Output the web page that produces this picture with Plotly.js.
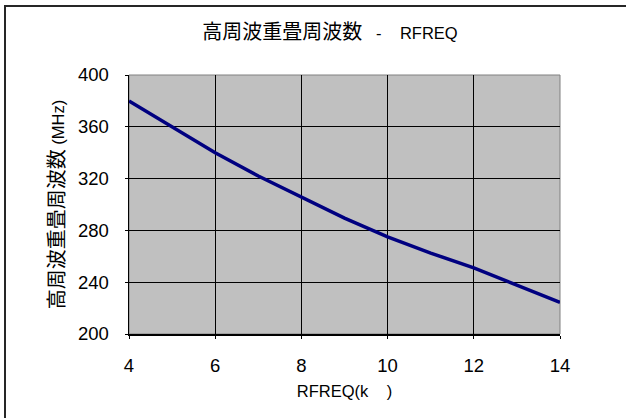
<!DOCTYPE html>
<html>
<head>
<meta charset="utf-8">
<script src="https://cdn.plot.ly/plotly-3.0.1.min.js"></script>
<style>
  html, body { margin: 0; padding: 0; background: #ffffff; }
  #chart { width: 626px; height: 418px; }
</style>
</head>
<body>
<div id="chart"></div>
<script>
const rfreq = [4, 5, 6, 7, 8, 9, 10, 11, 12, 13, 14];
const freqMHz = [380, 360, 340, 322, 305.5, 289.5, 275, 262.5, 251, 238, 224.5];
const xTicks = [4, 6, 8, 10, 12, 14];
const yTicks = [200, 240, 280, 320, 360, 400];
const chartTitle = '<span style="font-size:20px">高周波重畳周波数</span>\u00a0\u00a0\u00a0-\u00a0\u00a0\u00a0 RFREQ';
const xTitle = 'RFREQ(k\u00a0\u00a0\u00a0\u00a0)';
const yTitle = '<span style="font-size:20px">高周波重畳周波数</span>\u00a0(MHz)';

const latin = 'Liberation Sans, Arial, Noto Sans CJK JP, sans-serif';

const trace = {
  x: rfreq,
  y: freqMHz,
  type: 'scatter',
  mode: 'lines',
  line: { color: '#000080', width: 3.5, shape: 'linear' },
  hoverinfo: 'skip'
};

const layout = {
  width: 626,
  height: 418,
  margin: { l: 129, r: 66, t: 75, b: 84 },
  paper_bgcolor: '#ffffff',
  plot_bgcolor: '#c0c0c0',
  showlegend: false,
  font: { family: latin, color: '#000000', size: 16 },
  title: {
    text: chartTitle,
    font: { family: latin, size: 16.5, color: '#000000' },
    x: 330 / 626, xref: 'container', xanchor: 'center',
    y: 1 - 33 / 418, yref: 'container', yanchor: 'middle'
  },
  xaxis: {
    range: [4, 14],
    tickvals: xTicks,
    ticktext: xTicks.map(String),
    showgrid: true, gridcolor: '#000000', gridwidth: 1,
    zeroline: false,
    showline: true, linecolor: '#000000', linewidth: 2,
    ticks: 'outside', ticklen: 3, tickcolor: '#000000',
    ticklabelstandoff: 11,
    tickfont: { family: latin, size: 18.5, color: '#000000' },
    title: { text: xTitle, font: { family: latin, size: 16.5, color: '#000000' }, standoff: 10 },
    automargin: false,
    fixedrange: true
  },
  yaxis: {
    range: [200, 400],
    tickvals: yTicks,
    ticktext: yTicks.map(String),
    showgrid: true, gridcolor: '#000000', gridwidth: 1,
    zeroline: false,
    showline: true, linecolor: '#000000', linewidth: 1.5,
    ticks: 'outside', ticklen: 3, tickcolor: '#000000',
    ticklabelstandoff: 12,
    tickfont: { family: latin, size: 18.5, color: '#000000' },
    title: { text: yTitle, font: { family: latin, size: 16.5, color: '#000000' }, standoff: 9 },
    automargin: false,
    fixedrange: true
  },
  shapes: [
    {
      type: 'rect', xref: 'paper', yref: 'paper', layer: 'below',
      x0: 0, x1: 1, y0: 0, y1: 1,
      line: { color: '#808080', width: 1 }
    },
    {
      type: 'rect', xref: 'paper', yref: 'paper', layer: 'above',
      x0: (5 - 129) / 431, x1: (700 - 129) / 431,
      y0: (334 - 500) / 259, y1: (334 - 6) / 259,
      line: { color: '#262626', width: 2 },
      fillcolor: 'rgba(0,0,0,0)'
    }
  ]
};

Plotly.newPlot('chart', [trace], layout, { displayModeBar: false, staticPlot: true });
</script>
</body>
</html>
